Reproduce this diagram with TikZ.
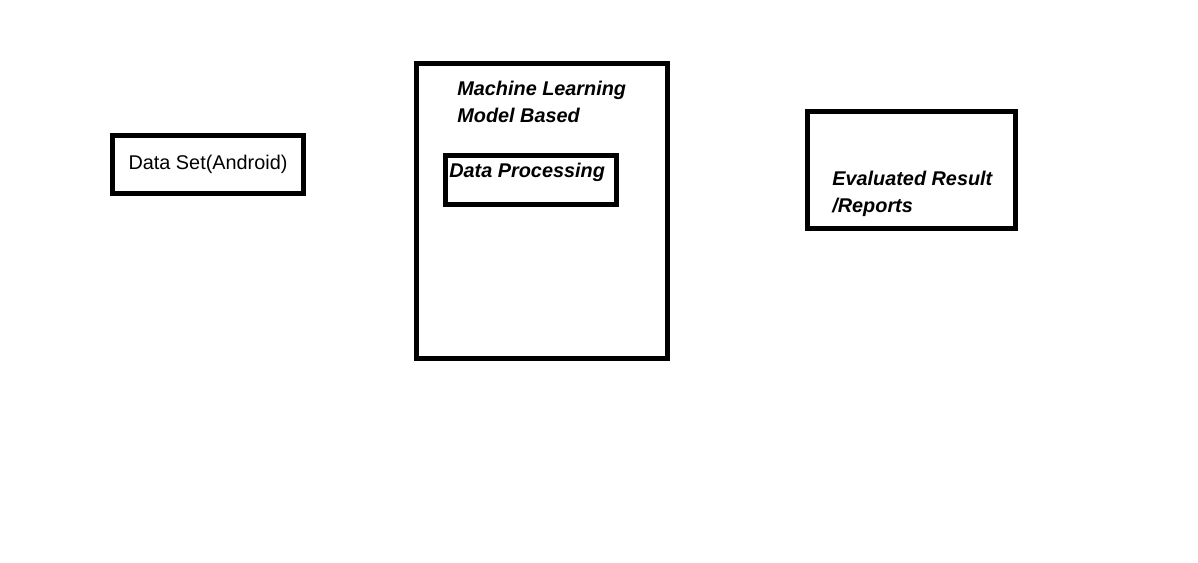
\documentclass[tikz,border=0pt]{standalone}
\usepackage{fontspec}
\setmainfont{Liberation Sans}
\usetikzlibrary{positioning}

\begin{document}
\begin{tikzpicture}[x=0.02cm, y=-0.02cm, box/.style={draw, line width=2.85pt, inner sep=0pt}, lbl/.style={font=\fontsize{11.3}{15.4}\selectfont\bfseries\itshape, align=left, inner sep=0pt, anchor=north west}]
\useasboundingbox (0,0) rectangle (1198,563);
\node[box, minimum width=3.82cm, minimum height=1.16cm, font=\fontsize{11.3}{13}\selectfont] (data) at (208,164.5) {Data Set(Android)};
\node[box, minimum width=5.04cm, minimum height=5.92cm] (ml) at (542,211) {};
\node[box, minimum width=3.42cm, minimum height=0.98cm] (proc) at (531,180) {};
\node[box, minimum width=4.16cm, minimum height=2.34cm] (eval) at (911.5,170) {};
\node[lbl] (mltext) at (457,81) {Machine Learning\\Model Based};
\node[lbl] (proctext) at (449,163) {Data Processing};
\node[lbl] (evaltext) at (832,171) {Evaluated Result\\/Reports};
\end{tikzpicture}
\end{document}
